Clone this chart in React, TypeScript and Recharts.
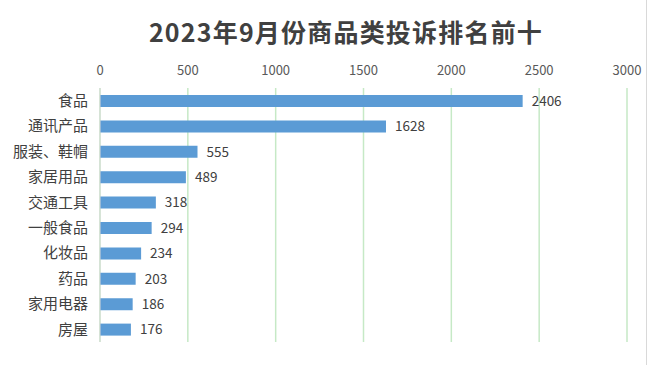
import { BarChart, Bar, XAxis, YAxis, CartesianGrid, LabelList } from "recharts";

const categories = ["食品", "通讯产品", "服装、鞋帽", "家居用品", "交通工具", "一般食品", "化妆品", "药品", "家用电器", "房屋"];
const complaints = [2406, 1628, 555, 489, 318, 294, 234, 203, 186, 176];
const xTicks = [0, 500, 1000, 1500, 2000, 2500, 3000];

const data = categories.map((name, i) => ({ name, value: complaints[i] }));

const font = '"Noto Sans CJK SC", "Noto Sans", sans-serif';

export default function App() {
  return (
    <div
      style={{
        position: "absolute",
        left: 0,
        top: 0,
        width: 647,
        height: 365,
        background: "#fff",
        fontFamily: font,
        borderRight: "1px solid #d9d9d9",
        boxSizing: "border-box",
      }}
    >
      <div
        style={{
          position: "absolute",
          top: 13,
          left: 0,
          width: 692,
          textAlign: "center",
          fontSize: 25,
          fontWeight: 700,
          color: "#404040",
          letterSpacing: 1.2,
        }}
      >
        2023年9月份商品类投诉排名前十
      </div>
      <BarChart
        width={647}
        height={365}
        data={data}
        layout="vertical"
        margin={{ top: 58, right: 20, bottom: 23, left: 0 }}
      >
        <CartesianGrid horizontal={false} stroke="#c6e9c6" strokeWidth={1.5} />
        <XAxis
          type="number"
          orientation="top"
          domain={[0, 3000]}
          ticks={xTicks}
          axisLine={false}
          tickLine={false}
          tickMargin={7}
          height={30}
          tick={{ fill: "#595959", fontSize: 13, fontFamily: font }}
        />
        <YAxis
          type="category"
          dataKey="name"
          width={100}
          tickLine={false}
          tickSize={0}
          tickMargin={12}
          axisLine={{ stroke: "#d9d9d9" }}
          tick={{ fill: "#404040", fontSize: 15, fontFamily: font }}
          interval={0}
        />
        <Bar dataKey="value" fill="#5b9bd5" barSize={12} isAnimationActive={false}>
          <LabelList
            dataKey="value"
            position="right"
            offset={9}
            fill="#404040"
            fontSize={13.5}
            fontFamily={font}
          />
        </Bar>
      </BarChart>
    </div>
  );
}
